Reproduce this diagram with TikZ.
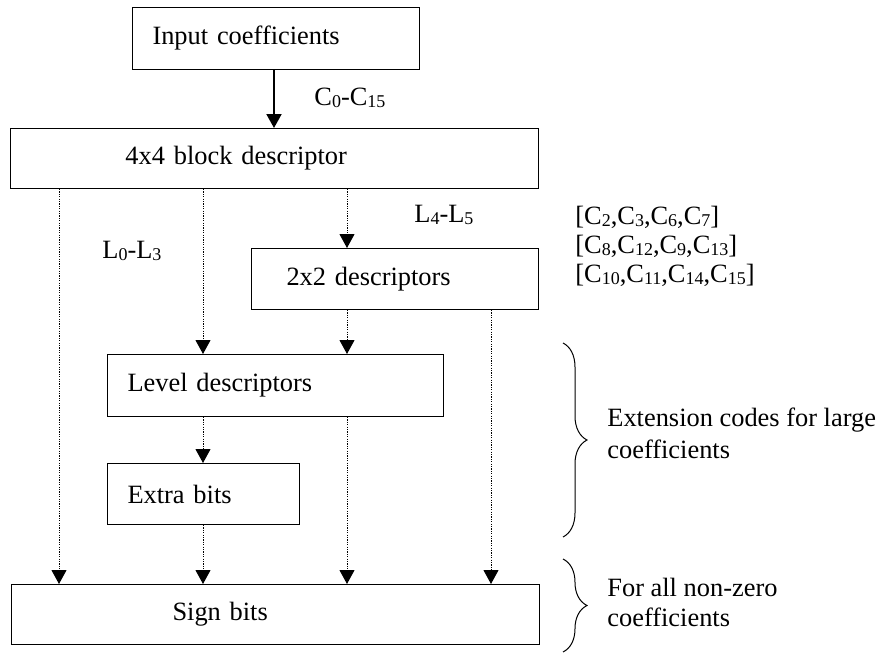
\documentclass[tikz,border=0pt]{standalone}
\usepackage{fontspec}
\setmainfont{Liberation Serif}
\usetikzlibrary{arrows.meta,decorations.pathreplacing}
\newcommand{\sbs}[1]{\raisebox{-1.2pt}{\fontsize{9}{9}\selectfont #1}}
\begin{document}
\begin{tikzpicture}[x=0.5pt,y=-0.5pt,
  box/.style={draw, line width=0.5pt, rectangle, anchor=north west, align=left,
    inner ysep=0pt, font=\fontsize{13.2}{15}\selectfont},
  lbl/.style={anchor=west, inner sep=0pt, align=left, font=\fontsize{13.2}{15}\selectfont},
  dotarrow/.style={line width=0.5pt, dash pattern=on 0.6pt off 0.6pt,
    -{Triangle[width=7.5pt,length=7pt]}},
  solidarrow/.style={line width=1pt, -{Triangle[width=7.5pt,length=7pt]}},
  bracestyle/.style={decorate, decoration={brace, amplitude=12pt, aspect=0.5}, line width=0.5pt}]
\useasboundingbox (0,0) rectangle (880,653);

% boxes
\node[box, text width=123.5pt, inner xsep=10pt, minimum height=31pt] (in) at (132,7) {Input coefficients};
\node[box, text width=149pt, inner xsep=57.5pt, minimum height=30pt] (d44) at (10,128) {4x4 block descriptor};
\node[box, text width=108.5pt, inner xsep=17.5pt, minimum height=30.5pt] (d22) at (251,248) {2x2 descriptors};
\node[box, text width=148pt, inner xsep=10pt, minimum height=31pt] (lev) at (107,354) {Level descriptors};
\node[box, text width=76pt, inner xsep=10pt, minimum height=30.5pt] (ext) at (107,463) {Extra bits};
\node[box, text width=103pt, inner xsep=80.5pt, minimum height=30pt] (sign) at (11,584) {Sign bits};

% labels
\node[lbl] (lc) at (314,98) {C\sbs{0}-C\sbs{15}};
\node[lbl] (l45) at (414,215) {L\sbs{4}-L\sbs{5}};
\node[lbl] (l03) at (102,251) {L\sbs{0}-L\sbs{3}};
\node[lbl, font=\fontsize{13.2}{14.5}\selectfont] (coefs) at (575,246)
  {{[}C\sbs{2},C\sbs{3},C\sbs{6},C\sbs{7}{]}\\{[}C\sbs{8},C\sbs{12},C\sbs{9},C\sbs{13}{]}\\{[}C\sbs{10},C\sbs{11},C\sbs{14},C\sbs{15}{]}};
\node[lbl, font=\fontsize{13.2}{16}\selectfont] (extl) at (607,433) {Extension codes for large\\coefficients};
\node[lbl, font=\fontsize{13.2}{15}\selectfont] (signl) at (607,602) {For all non-zero\\coefficients};

% columns
\coordinate (c0) at (274,0);
\coordinate (c1) at (59,0);
\coordinate (c2) at (203,0);
\coordinate (c3) at (347,0);
\coordinate (c4) at (491,0);

% connectors
\draw[solidarrow] (c0 |- in.south) -- (c0 |- d44.north);
\draw[dotarrow] (c1 |- d44.south) -- (c1 |- sign.north);
\draw[dotarrow] (c2 |- d44.south) -- (c2 |- lev.north);
\draw[dotarrow] (c3 |- d44.south) -- (c3 |- d22.north);
\draw[dotarrow] (c3 |- d22.south) -- (c3 |- lev.north);
\draw[dotarrow] (c4 |- d22.south) -- (c4 |- sign.north);
\draw[dotarrow] (c2 |- lev.south) -- (c2 |- ext.north);
\draw[dotarrow] (c3 |- lev.south) -- (c3 |- sign.north);
\draw[dotarrow] (c2 |- ext.south) -- (c2 |- sign.north);

% braces
\draw[bracestyle] (563,343) -- (563,537);
\draw[bracestyle] (563,559) -- (563,652);
\end{tikzpicture}
\end{document}
